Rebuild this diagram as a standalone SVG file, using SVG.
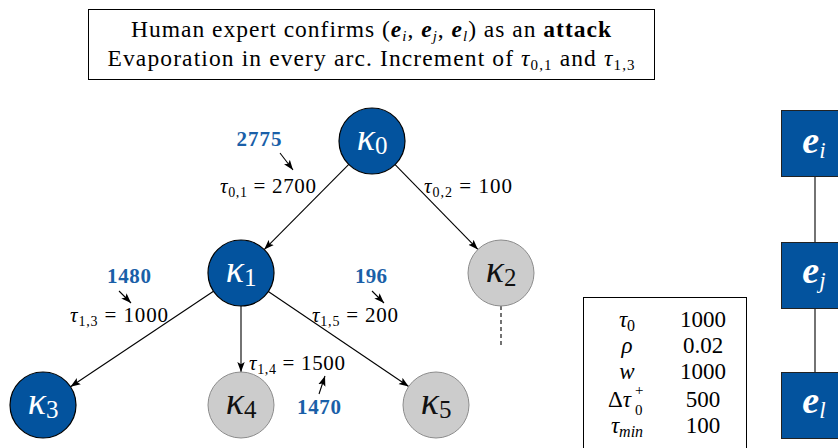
<svg xmlns="http://www.w3.org/2000/svg" width="838" height="448" viewBox="0 0 838 448" font-family="'Liberation Serif', 'DejaVu Serif', 'Times New Roman', serif">
<style>
text{font-family:"Liberation Serif","DejaVu Serif","Times New Roman",serif}
.blue{fill:#03539e;stroke:#000;stroke-width:1.2}
.grey{fill:#cccccc;stroke:#8c8c8c;stroke-width:1}
.kw{font-size:38px;fill:#fff;font-style:italic}
.kb{font-size:38px;fill:#111;font-style:italic}
.sub{font-size:25px;font-style:normal}
.el{font-size:21px;fill:#000}
.num{font-size:21px;font-weight:bold;fill:#1a5fa8}
.edge{stroke:#000;stroke-width:1.1;fill:none}
.tab{font-size:23px;fill:#000}
.hd{font-size:23.5px;fill:#000}
.en{font-size:38px;fill:#fff}
</style>
<defs>
<marker id="arr" markerUnits="userSpaceOnUse" markerWidth="11" markerHeight="9" refX="10" refY="4.5" orient="auto">
<path d="M0,0.8 L10,4.5 L0,8.2 L2.2,4.5 z" fill="#000"/>
</marker>
</defs>
<rect x="88.5" y="9.5" width="566" height="70" fill="#fff" stroke="#000" stroke-width="1"/>
<text class="hd" x="371" y="37" text-anchor="middle" textLength="480">Human expert confirms (<tspan font-weight="bold" font-style="italic">e</tspan><tspan font-size="15" dy="4" font-style="italic">i</tspan><tspan dy="-4">, </tspan><tspan font-weight="bold" font-style="italic">e</tspan><tspan font-size="15" dy="4" font-style="italic">j</tspan><tspan dy="-4">, </tspan><tspan font-weight="bold" font-style="italic">e</tspan><tspan font-size="15" dy="4" font-style="italic">l</tspan><tspan dy="-4">) as an </tspan><tspan font-weight="bold">attack</tspan></text>
<text class="hd" x="371" y="66" text-anchor="middle" textLength="527">Evaporation in every arc. Increment of <tspan font-style="italic">τ</tspan><tspan font-size="15" dy="4">0,1</tspan><tspan dy="-4"> and </tspan><tspan font-style="italic">τ</tspan><tspan font-size="15" dy="4">1,3</tspan></text>
<g id="connectors">
<line class="edge" x1="348.8" y1="164.4" x2="264.2" y2="249.6" marker-end="url(#arr)"/>
<line class="edge" x1="395.1" y1="164.6" x2="477.9" y2="249.4" marker-end="url(#arr)"/>
<line class="edge" x1="213.5" y1="291.3" x2="70.5" y2="386.7" marker-end="url(#arr)"/>
<line class="edge" x1="241" y1="306" x2="241" y2="372" marker-end="url(#arr)"/>
<line class="edge" x1="268.3" y1="291.5" x2="408.7" y2="386.5" marker-end="url(#arr)"/>
<line class="edge" x1="501" y1="306" x2="501" y2="345" stroke-dasharray="4,3"/>
<line class="edge" x1="815" y1="176" x2="815" y2="242"/>
<line class="edge" x1="815" y1="308" x2="815" y2="372"/>
<line class="edge" x1="280" y1="153" x2="293" y2="170" marker-end="url(#arr)"/>
<line class="edge" x1="119" y1="291" x2="131" y2="303" marker-end="url(#arr)"/>
<line class="edge" x1="372" y1="291" x2="384" y2="303" marker-end="url(#arr)"/>
<line class="edge" x1="319" y1="394" x2="325" y2="376" marker-end="url(#arr)"/>
</g>
<g id="labels">
<text class="num" x="259" y="146" text-anchor="middle" textLength="45">2775</text>
<text class="el" x="220" y="193" textLength="96"><tspan font-style="italic">τ</tspan><tspan font-size="14" dy="4">0,1</tspan><tspan dy="-4"> = 2700</tspan></text>
<text class="el" x="424" y="193" textLength="88"><tspan font-style="italic">τ</tspan><tspan font-size="14" dy="4">0,2</tspan><tspan dy="-4"> = 100</tspan></text>
<text class="num" x="129" y="283" text-anchor="middle" textLength="44">1480</text>
<text class="el" x="70" y="322" textLength="98"><tspan font-style="italic">τ</tspan><tspan font-size="14" dy="4">1,3</tspan><tspan dy="-4"> = 1000</tspan></text>
<text class="num" x="371" y="283" text-anchor="middle" textLength="32">196</text>
<text class="el" x="312" y="322" textLength="86"><tspan font-style="italic">τ</tspan><tspan font-size="14" dy="4">1,5</tspan><tspan dy="-4"> = 200</tspan></text>
<text class="el" x="249" y="370" textLength="96"><tspan font-style="italic">τ</tspan><tspan font-size="14" dy="4">1,4</tspan><tspan dy="-4"> = 1500</tspan></text>
<text class="num" x="319" y="414" text-anchor="middle" textLength="44">1470</text>
</g>
<g id="k0"><circle class="blue" cx="372" cy="141" r="33"/><text class="kw" x="372" y="150" text-anchor="middle">κ<tspan class="sub" dy="4">0</tspan></text></g>
<g id="k1"><circle class="blue" cx="241" cy="273" r="33"/><text class="kw" x="241" y="282" text-anchor="middle">κ<tspan class="sub" dy="4">1</tspan></text></g>
<g id="k2"><circle class="grey" cx="501" cy="273" r="33"/><text class="kb" x="501" y="282" text-anchor="middle">κ<tspan class="sub" dy="4">2</tspan></text></g>
<g id="k3"><circle class="blue" cx="43" cy="405" r="33"/><text class="kw" x="43" y="414" text-anchor="middle">κ<tspan class="sub" dy="4">3</tspan></text></g>
<g id="k4"><circle class="grey" cx="241" cy="405" r="33"/><text class="kb" x="241" y="414" text-anchor="middle">κ<tspan class="sub" dy="4">4</tspan></text></g>
<g id="k5"><circle class="grey" cx="436" cy="405" r="33"/><text class="kb" x="436" y="414" text-anchor="middle">κ<tspan class="sub" dy="4">5</tspan></text></g>
<g id="params">
<rect x="583.5" y="297.5" width="163" height="160" fill="#fff" stroke="#000" stroke-width="1"/>
<text class="tab" x="627" y="327" text-anchor="middle"><tspan font-style="italic">τ</tspan><tspan font-size="16" dy="4">0</tspan></text>
<text class="tab" x="703" y="327" text-anchor="middle">1000</text>
<text class="tab" x="627" y="353" text-anchor="middle" font-style="italic">ρ</text>
<text class="tab" x="703" y="353" text-anchor="middle">0.02</text>
<text class="tab" x="627" y="379" text-anchor="middle" font-style="italic">w</text>
<text class="tab" x="703" y="379" text-anchor="middle">1000</text>
<text class="tab" x="608" y="407">Δ<tspan font-style="italic">τ</tspan></text>
<text x="635" y="395" font-size="15" fill="#000">+</text>
<text x="635" y="415" font-size="15" fill="#000">0</text>
<text class="tab" x="703" y="407" text-anchor="middle">500</text>
<text class="tab" x="627" y="433" text-anchor="middle"><tspan font-style="italic">τ</tspan><tspan font-size="16" font-style="italic" dy="4">min</tspan></text>
<text class="tab" x="703" y="433" text-anchor="middle">100</text>
</g>
<g id="ei"><rect x="781.5" y="110.5" width="66" height="66" fill="#03539e" stroke="#222" stroke-width="1"/><text class="en" x="814" y="153" text-anchor="middle"><tspan font-weight="bold" font-style="italic">e</tspan><tspan font-size="23" font-style="italic" dy="5">i</tspan></text></g>
<g id="ej"><rect x="781.5" y="242.5" width="66" height="66" fill="#03539e" stroke="#222" stroke-width="1"/><text class="en" x="814" y="283" text-anchor="middle"><tspan font-weight="bold" font-style="italic">e</tspan><tspan font-size="23" font-style="italic" dy="5">j</tspan></text></g>
<g id="el"><rect x="781.5" y="372.5" width="66" height="66" fill="#03539e" stroke="#222" stroke-width="1"/><text class="en" x="814" y="413" text-anchor="middle"><tspan font-weight="bold" font-style="italic">e</tspan><tspan font-size="23" font-style="italic" dy="5">l</tspan></text></g>
</svg>
